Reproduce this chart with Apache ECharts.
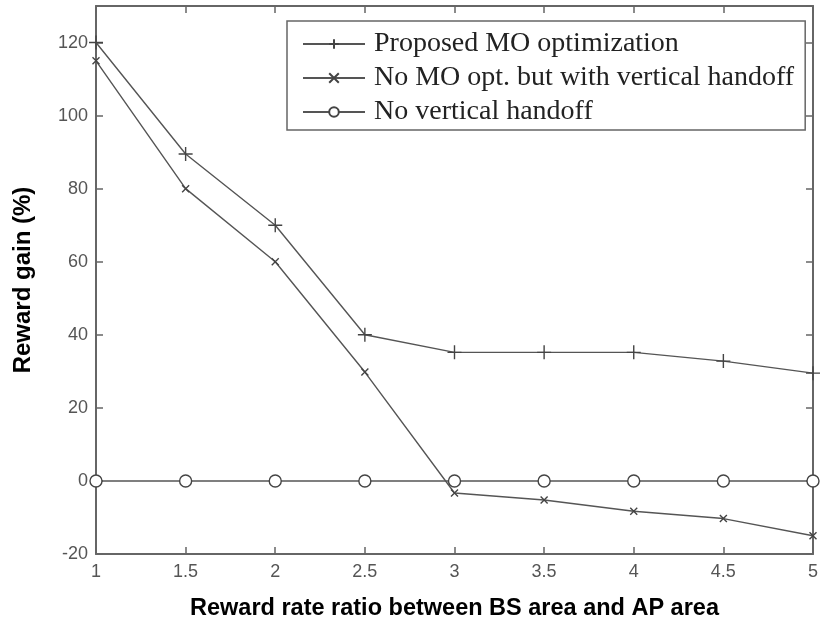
<!DOCTYPE html>
<html><head><meta charset="utf-8">
<script src="https://cdn.jsdelivr.net/npm/echarts@6/dist/echarts.min.js"></script>
<style>html,body{margin:0;padding:0;background:#fff;overflow:hidden}#c{width:821px;height:626px}</style>
</head><body><div id="c"></div>
<script>
var xValues = [1, 1.5, 2, 2.5, 3, 3.5, 4, 4.5, 5];
var proposed = [120, 89.5, 70, 40, 35.2, 35.2, 35.2, 32.8, 29.5];
var noMO = [115, 80, 60, 29.8, -3.3, -5.2, -8.3, -10.3, -15];
var noVH = [0, 0, 0, 0, 0, 0, 0, 0, 0];
var seriesNames = ['Proposed MO optimization', 'No MO opt. but with vertical handoff', 'No vertical handoff'];

function pairs(v){ return xValues.map(function(x,i){return [x, v[i]];}); }
var lineC = '#555';
var plus = 'path://M0,5L10,5M5,0L5,10';
var cross = 'path://M0,0L10,10M10,0L0,10';
function mk(name, data, sym, size){
  return {name:name, type:'line', data:pairs(data), symbol:sym, symbolSize:size,
    lineStyle:{color:lineC, width:1.4}, itemStyle:{color:'#fff', borderColor:'#444', borderWidth:1.4},
    showSymbol:true, animation:false, z:3};
}
var chart = echarts.init(document.getElementById('c'), null, {width:821, height:626});
var axisLine = {show:true, onZero:false, lineStyle:{color:'#666', width:2}};
var tick = {inside:true, length:7, lineStyle:{color:'#666', width:1.5}};
chart.setOption({
  animation:false,
  grid:{left:96, width:722, top:6, height:548},
  legend:{
    orient:'vertical', left:287, top:21,
    data:seriesNames, itemWidth:62, itemHeight:12, itemGap:0,
    padding:[6, 11, 1, 15], borderColor:'#666', borderWidth:1.5, backgroundColor:'#fff',
    textStyle:{fontFamily:'Liberation Serif', fontSize:28, lineHeight:34, color:'#222', padding:[0,0,0,4]}
  },
  xAxis:[{type:'value', min:1, max:5, interval:0.5, position:'bottom',
    axisLine:axisLine, axisTick:tick, splitLine:{show:false},
    axisLabel:{color:'#555', fontFamily:'Liberation Sans', fontSize:18, margin:9},
    name:'Reward rate ratio between BS area and AP area', nameLocation:'middle', nameGap:43,
    nameTextStyle:{fontFamily:'Liberation Sans', fontWeight:'bold', fontSize:23.5, color:'#000'}
  },{type:'value', min:1, max:5, interval:0.5, position:'top',
    axisLine:axisLine, axisTick:tick, axisLabel:{show:false}, splitLine:{show:false}}],
  yAxis:[{type:'value', min:-20, max:130, interval:20, position:'left',
    axisLine:axisLine, axisTick:tick, splitLine:{show:false},
    axisLabel:{color:'#555', fontFamily:'Liberation Sans', fontSize:18, margin:8, showMaxLabel:false,
      formatter:function(v){return v>120?'':String(v);}},
    name:'Reward gain (%)', nameLocation:'middle', nameGap:61, nameRotate:90,
    nameTextStyle:{fontFamily:'Liberation Sans', fontWeight:'bold', fontSize:24, color:'#000'}
  },{type:'value', min:-20, max:130, interval:20, position:'right',
    axisLine:axisLine, axisTick:tick, axisLabel:{show:false}, splitLine:{show:false}}],
  series:[
    mk(seriesNames[0], proposed, plus, 14),
    mk(seriesNames[1], noMO, cross, 7),
    mk(seriesNames[2], noVH, 'circle', 12)
  ]
});
</script></body></html>
